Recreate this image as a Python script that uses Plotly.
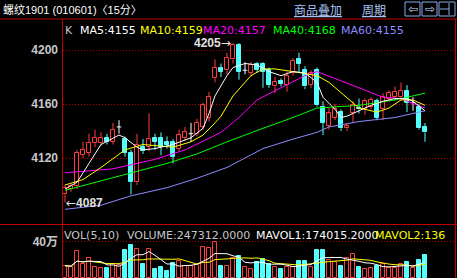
import plotly.graph_objects as go
import pandas as pd

W, H = 457, 278

# ---------------- data ----------------
opens = [4093, 4097, 4099, 4122, 4124, 4131, 4131, 4135, 4132, 4143,
         4134, 4124, 4102, 4128, 4128, 4135, 4135, 4132, 4132, 4127,
         4135, 4138, 4138, 4143, 4150, 4179, 4187, 4185, 4193, 4204,
         4185, 4183, 4190, 4190, 4185, 4173, 4177, 4174, 4183, 4193,
         4185, 4174, 4185, 4158, 4144, 4150, 4154, 4142, 4153, 4157,
         4156, 4158, 4162, 4156, 4164, 4165, 4165, 4170, 4161, 4158, 4143]
highs = [4100, 4101, 4126, 4132, 4138, 4141, 4139, 4138, 4146, 4148,
         4136, 4126, 4138, 4134, 4153, 4138, 4139, 4136, 4134, 4141,
         4143, 4146, 4149, 4161, 4169, 4193, 4190, 4198, 4205, 4205,
         4191, 4191, 4191, 4191, 4187, 4180, 4179, 4184, 4194, 4198,
         4188, 4185, 4187, 4162, 4157, 4160, 4156, 4146, 4162, 4164,
         4164, 4165, 4164, 4168, 4170, 4173, 4176, 4174, 4165, 4160, 4146]
lows = [4087, 4095, 4097, 4120, 4121, 4128, 4129, 4130, 4130, 4138,
        4121, 4093, 4100, 4123, 4125, 4126, 4122, 4127, 4116, 4125,
        4133, 4132, 4136, 4141, 4147, 4176, 4180, 4182, 4190, 4178,
        4182, 4180, 4183, 4172, 4172, 4168, 4173, 4169, 4181, 4183,
        4171, 4172, 4158, 4137, 4141, 4148, 4140, 4140, 4146, 4153,
        4152, 4156, 4148, 4148, 4162, 4163, 4163, 4154, 4155, 4141, 4132]
closes = [4098, 4099, 4124, 4126, 4131, 4135, 4135, 4132, 4141, 4143,
          4124, 4102, 4130, 4125, 4134, 4132, 4128, 4130, 4121, 4137,
          4139, 4138, 4146, 4159, 4165, 4187, 4184, 4194, 4204, 4184,
          4185, 4189, 4185, 4184, 4174, 4176, 4175, 4181, 4192, 4190,
          4173, 4183, 4159, 4146, 4153, 4156, 4142, 4144, 4159, 4156,
          4162, 4163, 4150, 4165, 4168, 4169, 4170, 4161, 4161, 4142, 4139]
# volume in 万 (10k lots)
volumes = [13.1, 12.0, 29.4, 14.7, 21.3, 12.0, 10.9, 10.9, 14.7, 13.9,
           30.5, 36.1, 31.3, 14.7, 31.3, 9.4, 12.0, 7.3, 15.8, 18.3,
           13.1, 13.1, 13.9, 33.5, 32.5, 39.8, 13.1, 13.1, 22.0, 24.3,
           12.0, 9.4, 17.6, 20.2, 14.7, 12.0, 9.4, 12.0, 12.0, 18.3,
           18.3, 12.0, 30.5, 30.5, 19.4, 17.6, 13.1, 21.3, 25.8, 12.0,
           9.4, 10.9, 13.1, 14.7, 10.9, 10.9, 14.7, 16.8, 10.9, 19.4, 24.73]

# moving-average lines (candle index, value)
ma5_idx = [0, 2, 4, 6, 9, 10, 12, 13, 15, 18, 21, 23, 24, 25, 27, 28, 30, 32, 34,
           36, 38, 40, 42, 43, 45, 46, 47, 49, 51, 53, 55, 57, 58, 60]
ma5_val = [4097, 4102, 4116, 4130, 4137, 4135, 4128, 4126, 4127, 4130, 4135, 4142,
           4153, 4166, 4181, 4187, 4190, 4189, 4184, 4181, 4184, 4183, 4176, 4165,
           4156, 4150, 4151, 4155, 4159, 4162, 4164, 4164, 4162, 4155]
ma10_idx = [0, 3, 6, 10, 13, 18, 21, 23, 25, 26, 28, 31, 33, 35, 38, 42, 44, 47,
            49, 52, 54, 56, 58, 60]
ma10_val = [4100, 4104, 4113, 4126, 4130, 4128, 4132, 4137, 4146, 4151, 4166, 4181,
            4186, 4186, 4184, 4181, 4176, 4165, 4157, 4154, 4157, 4163, 4163, 4159]
ma20_idx = [0, 8, 15, 20, 26, 29, 32, 36, 40, 42, 45, 49, 53, 56, 60]
ma20_val = [4109, 4112, 4119, 4126, 4139, 4150, 4163, 4172, 4181, 4184, 4179,
            4172, 4165, 4164, 4157]
ma40_idx = [0, 5, 11, 17, 22, 27, 33, 38, 42, 49, 55, 60]
ma40_val = [4096, 4102, 4109, 4116, 4123, 4132, 4142, 4150, 4157, 4159, 4163, 4168]
ma60_idx = [0, 6, 11, 17, 22, 27, 33, 38, 42, 44, 49, 55, 60]
ma60_val = [4082, 4085, 4092, 4098, 4105, 4113, 4127, 4134, 4139, 4143, 4147,
            4150, 4155]

price_ticks = [4120, 4160, 4200]
vol_ticks = [40]
vol_tick_text = ["40万"]

title_text = "螺纹1901 (010601)〈15分〉"
ma_labels = [("K", "#c8c8c8"), ("MA5:4155", "#ffffff"), ("MA10:4159", "#ffff00"),
             ("MA20:4157", "#ff00ff"), ("MA40:4168", "#00ff00"), ("MA60:4155", "#8c8cff")]
vol_labels = [("VOL(5,10)", "#c8c8c8"), ("VOLUME:247312.0000", "#c8c8c8"),
              ("MAVOL1:174015.2000", "#ffffff"), ("MAVOL2:136", "#ffff00")]

# ---------------- styling ----------------
RED = "#ff3c3c"
CYAN = "#54ffff"
WHITE = "#ffffff"
GRID = "#b00000"
BORDER = "#c00000"
FONT = "DejaVu Sans, Noto Sans CJK SC"
NUMFONT = "Liberation Sans, Noto Sans CJK SC"


def px_x(p):
    return p / W


def px_y(p):
    return 1 - p / H


idx = list(range(len(closes)))
up = [i for i in idx if closes[i] > opens[i]]
dn = [i for i in idx if closes[i] < opens[i]]
dj = [i for i in idx if closes[i] == opens[i]]

fig = go.Figure()

BODY_W = 0.75


def body_trace(ids, fill, line):
    return go.Bar(
        x=ids,
        y=[max(abs(closes[i] - opens[i]), 0.4) for i in ids],
        base=[min(opens[i], closes[i]) for i in ids],
        width=BODY_W,
        marker=dict(color=fill, line=dict(color=line, width=1)),
        xaxis="x", yaxis="y", showlegend=False, hoverinfo="skip",
    )


fig.add_trace(body_trace(up, "#000000", RED))
fig.add_trace(body_trace(dn, CYAN, CYAN))


def wick_trace(ids, color, doji=False):
    xs, ys = [], []
    for i in ids:
        top = max(opens[i], closes[i])
        bot = min(opens[i], closes[i])
        if doji:
            xs += [i, i, None, i - 0.38, i + 0.38, None]
            ys += [lows[i], highs[i], None, opens[i], opens[i], None]
        else:
            xs += [i, i, None, i, i, None]
            ys += [highs[i], top, None, bot, lows[i], None]
    return go.Scatter(x=xs, y=ys, mode="lines", line=dict(color=color, width=1),
                      xaxis="x", yaxis="y", showlegend=False, hoverinfo="skip")


fig.add_trace(wick_trace(up, RED))
fig.add_trace(wick_trace(dn, CYAN))
fig.add_trace(wick_trace(dj, WHITE, doji=True))

for xs, ys, col in [(ma60_idx, ma60_val, "#8c8cff"), (ma40_idx, ma40_val, "#00ff00"),
                    (ma20_idx, ma20_val, "#ff00ff"), (ma10_idx, ma10_val, "#ffff00"),
                    (ma5_idx, ma5_val, "#ffffff")]:
    fig.add_trace(go.Scatter(x=xs, y=ys, mode="lines", line=dict(color=col, width=1),
                             xaxis="x", yaxis="y", showlegend=False, hoverinfo="skip"))

# volume bars
vup = [i for i in idx if closes[i] >= opens[i]]
vdn = [i for i in idx if closes[i] < opens[i]]
fig.add_trace(go.Bar(x=vup, y=[volumes[i] for i in vup], width=BODY_W,
                     marker=dict(color="#000000", line=dict(color=RED, width=1)),
                     xaxis="x2", yaxis="y2", showlegend=False, hoverinfo="skip"))
fig.add_trace(go.Bar(x=vdn, y=[volumes[i] for i in vdn], width=BODY_W,
                     marker=dict(color=CYAN, line=dict(color=CYAN, width=1)),
                     xaxis="x2", yaxis="y2", showlegend=False, hoverinfo="skip"))
vol_s = pd.Series(volumes)
mavol1 = vol_s.rolling(5, min_periods=1).mean().tolist()
mavol2 = vol_s.rolling(10, min_periods=1).mean().tolist()
fig.add_trace(go.Scatter(x=idx, y=mavol2, mode="lines", line=dict(color="#ffff00", width=1),
                         xaxis="x2", yaxis="y2", showlegend=False, hoverinfo="skip"))
fig.add_trace(go.Scatter(x=idx, y=mavol1, mode="lines", line=dict(color="#ffffff", width=1),
                         xaxis="x2", yaxis="y2", showlegend=False, hoverinfo="skip"))

# ---------------- layout ----------------
x_dom = [px_x(63), px_x(455)]
x_rng = [-0.333, 65.0]
price_top = 4200 + 30 / 1.35
price_bot = price_top - 204 / 1.35
vol_per_px = 1.11

fig.update_layout(
    width=W, height=H,
    margin=dict(l=0, r=0, t=0, b=0),
    paper_bgcolor="#000000", plot_bgcolor="#000000",
    barmode="overlay", bargap=0,
    showlegend=False,
    xaxis=dict(domain=x_dom, range=x_rng, anchor="y", showgrid=False, zeroline=False,
               showticklabels=False, ticks="", showline=False, fixedrange=True),
    xaxis2=dict(domain=x_dom, range=x_rng, anchor="y2", matches="x", showgrid=False,
                zeroline=False, showticklabels=False, ticks="", showline=False),
    yaxis=dict(domain=[px_y(224), px_y(20)], range=[price_bot, price_top], anchor="x",
               tickvals=price_ticks, ticktext=[str(v) for v in price_ticks],
               tickfont=dict(family=NUMFONT, size=12, color="#c8c8c8", weight="bold"),
               ticks="", ticklabelstandoff=4, showgrid=True, gridcolor=GRID,
               griddash="1px,2px", gridwidth=1, zeroline=False, showline=False),
    yaxis2=dict(domain=[0, px_y(226)], range=[-0.5 * vol_per_px, 51.5 * vol_per_px],
                anchor="x2", tickvals=vol_ticks, ticktext=vol_tick_text,
                tickfont=dict(family=NUMFONT, size=12, color="#c8c8c8", weight="bold"),
                ticks="", ticklabelstandoff=4, showgrid=True, gridcolor=GRID,
                griddash="1px,2px", gridwidth=1, zeroline=False, showline=False),
)

shapes = [
    dict(type="line", xref="paper", yref="paper", x0=0, x1=1, y0=px_y(19), y1=px_y(19),
         line=dict(color=BORDER, width=1)),
    dict(type="line", xref="paper", yref="paper", x0=0, x1=1, y0=px_y(224.5), y1=px_y(224.5),
         line=dict(color=BORDER, width=1)),
    dict(type="line", xref="paper", yref="paper", x0=px_x(62.5), x1=px_x(62.5), y0=0,
         y1=px_y(19), line=dict(color=BORDER, width=1)),
    dict(type="line", xref="paper", yref="paper", x0=px_x(455.5), x1=px_x(455.5), y0=0,
         y1=px_y(19), line=dict(color=BORDER, width=1)),
]
BTN = "#86aee8"
for bx0, bx1 in [(405, 420), (422, 437), (439, 455)]:
    shapes.append(dict(type="rect", xref="paper", yref="paper", x0=px_x(bx0), x1=px_x(bx1),
                       y0=px_y(16), y1=px_y(2), line=dict(color=BTN, width=1)))
# third button glyph
shapes.append(dict(type="line", xref="paper", yref="paper", x0=px_x(449), x1=px_x(449),
                   y0=px_y(15), y1=px_y(3), line=dict(color=BTN, width=1)))
shapes.append(dict(type="line", xref="paper", yref="paper", x0=px_x(440), x1=px_x(449),
                   y0=px_y(9), y1=px_y(9), line=dict(color=BTN, width=1)))
fig.update_layout(shapes=shapes)

ann = []


def label(text, x, y, color, size=11, family=FONT, anchor="left"):
    ann.append(dict(text=text, x=px_x(x), y=px_y(y), xref="paper", yref="paper",
                    xanchor=anchor, yanchor="middle", showarrow=False,
                    font=dict(family=family, size=size, color=color), borderpad=0))


label(title_text, 2, 9, "#ffffff", size=11, family=NUMFONT)
label("<u>商品叠加</u>", 293, 9, "#a8c4f4", size=12, family="Noto Sans CJK SC")
label("<u>周期</u>", 361, 9, "#a8c4f4", size=12, family="Noto Sans CJK SC")
label("⇦", 412.5, 9, "#c8dcff", size=12, family="DejaVu Sans", anchor="center")
label("⇨", 429.5, 9, "#c8dcff", size=12, family="DejaVu Sans", anchor="center")

for (t, c), x in zip(ma_labels, [64, 79, 139, 202, 272, 340]):
    label(t, x, 30, c)
for (t, c), x in zip(vol_labels, [63, 126, 255, 374]):
    label(t, x, 235, c)

ARROW_R = "<span style='font-family:DejaVu Sans;font-weight:normal'>→</span>"
ARROW_L = "<span style='font-family:DejaVu Sans;font-weight:normal'>←</span>"
ann.append(dict(text=f"{highs[28]}{ARROW_R}", x=28, y=highs[28], xref="x", yref="y",
                xanchor="right", yanchor="middle", showarrow=False, borderpad=0, xshift=-1,
                font=dict(family=NUMFONT, size=12, color="#e0e0e0", weight="bold")))
ann.append(dict(text=f"{ARROW_L}{lows[0]}", x=0, y=lows[0], xref="x", yref="y",
                xanchor="left", yanchor="middle", showarrow=False, borderpad=0,
                font=dict(family=NUMFONT, size=12, color="#e0e0e0", weight="bold")))
fig.update_layout(annotations=ann)

fig.write_html("out.html")
